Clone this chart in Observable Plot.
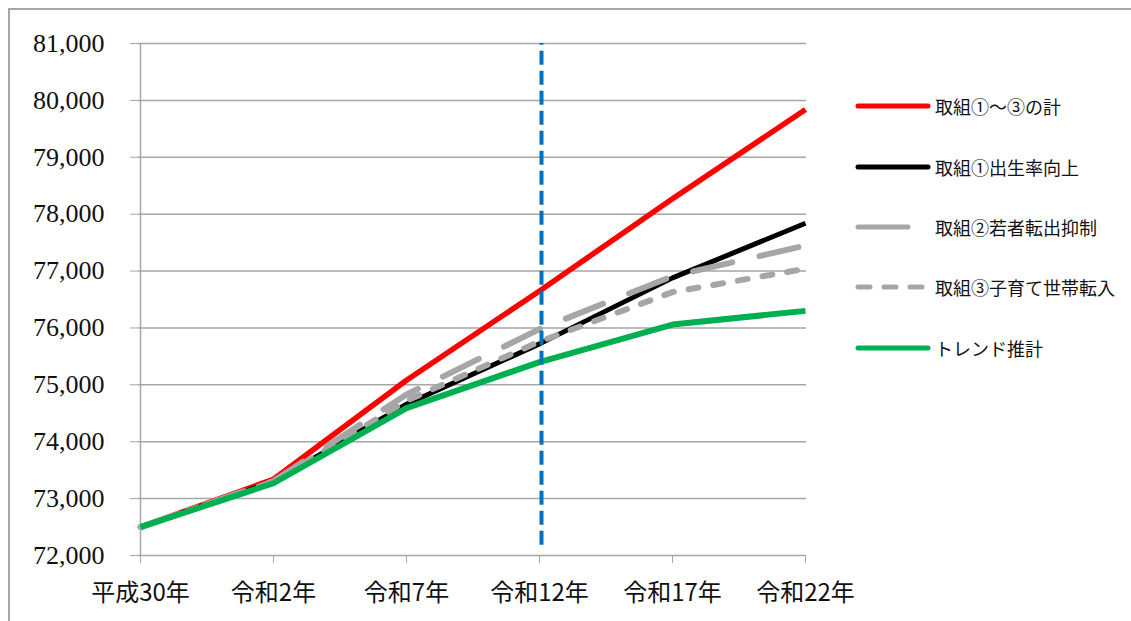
<!DOCTYPE html>
<html>
<head>
<meta charset="utf-8">
<script src="https://cdn.jsdelivr.net/npm/d3@7"></script>
<script src="https://cdn.jsdelivr.net/npm/@observablehq/plot@0.6"></script>
<style>
  html, body { margin: 0; padding: 0; background: #fff; }
  #wrap { position: relative; width: 1131px; height: 621px; overflow: hidden; }
  #frame { position: absolute; left: 8px; top: 8px; width: 1130px; height: 620px;
           border-left: 2px solid #a6a6a6; border-top: 2px solid #a6a6a6; pointer-events: none; }
  #legend { position: absolute; left: 0; top: 0; width: 1131px; height: 621px; pointer-events: none; }
  .row { position: absolute; left: 855px; height: 24px; display: flex; align-items: center; }
  .row svg { width: 76px; height: 10px; margin-right: 4px; }
  .row span { font-family: "Noto Sans CJK JP", sans-serif; font-size: 18px; color: #111; white-space: nowrap; }
</style>
</head>
<body>
<div id="wrap">
  <div id="chart"></div>
  <div id="frame"></div>
  <div id="legend"></div>
</div>
<script>
// ---- data ----
const categories = ["平成30年", "令和2年", "令和7年", "令和12年", "令和17年", "令和22年"];
const seriesNames = ["取組①～③の計", "取組①出生率向上", "取組②若者転出抑制", "取組③子育て世帯転入", "トレンド推計"];
const totalAll   = [72500, 73340, 75080, 76650, 78270, 79840];
const birthRate  = [72500, 73300, 74660, 75720, 76880, 77840];
const youthStay  = [72500, 73310, 74830, 75980, 76910, 77450];
const familyIn   = [72500, 73300, 74720, 75760, 76630, 77040];
const trend      = [72500, 73270, 74590, 75400, 76060, 76300];
const yTicks = [72000, 73000, 74000, 75000, 76000, 77000, 78000, 79000, 80000, 81000];
const dividerYear = ["令和12年"];
const dividerSpan = [72180, 81000];

const seriesValues = [totalAll, birthRate, youthStay, familyIn, trend];
const styles = [
  {stroke: "#ff0000", strokeWidth: 5.5, dash: null, legendDash: null},
  {stroke: "#000000", strokeWidth: 5, dash: null, legendDash: null},
  {stroke: "#a6a6a6", strokeWidth: 6, dash: "40,28", legendDash: "50,100"},
  {stroke: "#a6a6a6", strokeWidth: 6, dash: "10,15", legendDash: "12,14"},
  {stroke: "#00b050", strokeWidth: 6, dash: null, legendDash: null}
];

const tables = seriesValues.map((vals, i) =>
  categories.map((c, j) => ({year: c, value: vals[j], series: seriesNames[i]})));

const lineMarks = tables.map((t, i) => Plot.line(t, {
  x: "year", y: "value",
  stroke: styles[i].stroke, strokeWidth: styles[i].strokeWidth,
  strokeDasharray: styles[i].dash || undefined,
  strokeLinecap: styles[i].dash ? "round" : "butt",
  strokeLinejoin: "round"
}));

const chart = Plot.plot({
  width: 1131, height: 621,
  marginLeft: 138, marginRight: 325, marginTop: 43, marginBottom: 66,
  style: {background: "transparent", overflow: "visible"},
  x: {type: "point", domain: categories, padding: 0, label: null},
  y: {domain: [72000, 81000], label: null},
  marks: [
    Plot.gridY(yTicks, {stroke: "#a6a6a6", strokeOpacity: 1, strokeWidth: 1.5}),
    Plot.ruleX([categories[0]], {stroke: "#a6a6a6", strokeWidth: 1.5}),
    Plot.axisY(yTicks, {tickFormat: d3.format(","), tickSize: 8, tickPadding: 26, label: null,
      stroke: "#a6a6a6", fontSize: 26, fontFamily: "'Liberation Serif', serif", fill: "#111"}),
    Plot.axisX({tickSize: 8, tickPadding: 20, stroke: "#a6a6a6", fontSize: 24,
      fontFamily: "'Noto Sans CJK JP', sans-serif", fill: "#111", label: null}),
    ...lineMarks,
    Plot.ruleX(dividerYear, {y1: dividerSpan[0], y2: dividerSpan[1], dx: 2,
      stroke: "#0070c0", strokeWidth: 4, strokeDasharray: "14,6"})
  ]
});
document.getElementById("chart").appendChild(chart);

// ---- legend ----
const legendTops = [94, 155, 215, 275, 336];
const legend = document.getElementById("legend");
seriesNames.forEach((name, i) => {
  const row = document.createElement("div");
  row.className = "row";
  row.style.top = legendTops[i] + "px";
  const s = styles[i];
  const dash = s.legendDash ? `stroke-dasharray="${s.legendDash}"` : "";
  const x2 = i === 2 ? 53 : 73;
  row.innerHTML = `<svg viewBox="0 0 76 10"><line x1="3" y1="5" x2="${x2}" y2="5" stroke="${s.stroke}" stroke-width="5" stroke-linecap="round" ${dash}/></svg><span>${name}</span>`;
  legend.appendChild(row);
});
</script>
</body>
</html>
